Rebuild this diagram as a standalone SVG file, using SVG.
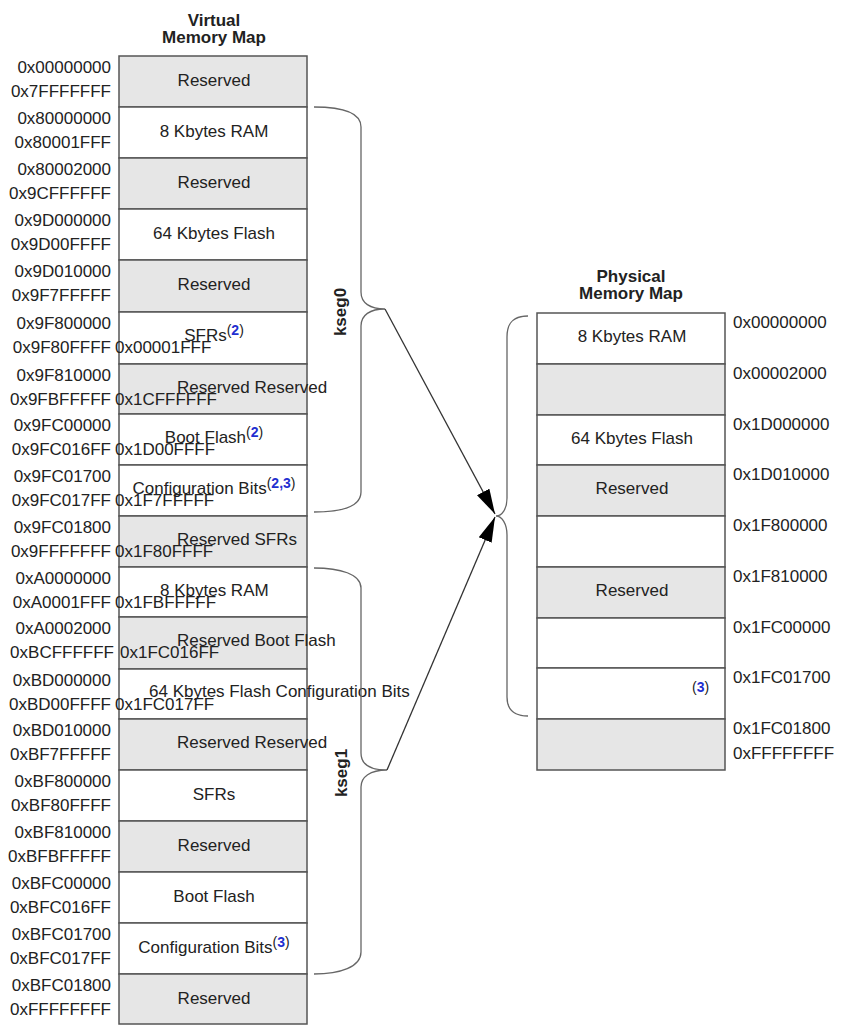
<svg xmlns="http://www.w3.org/2000/svg" width="845" height="1026" viewBox="0 0 845 1026">
<style>
text{font-family:"Liberation Sans",Arial,Helvetica,sans-serif;font-size:17px;fill:#222}
.b{font-weight:bold}
.m{text-anchor:middle}
.e{text-anchor:end}
.g{fill:#e6e6e6;stroke:#555;stroke-width:1.5}
.w{fill:#fff;stroke:#555;stroke-width:1.5}
.sup{font-size:14px}
.bl{fill:#1f2fd0;font-weight:bold}
.br{fill:none;stroke:#666;stroke-width:1.3}
.ar{fill:none;stroke:#333;stroke-width:1.3;marker-end:url(#ah)}
</style>
<defs>
<marker id="ah" markerWidth="28" markerHeight="16" refX="25" refY="8" orient="auto" markerUnits="userSpaceOnUse"><path d="M0,1 L25,8 L0,15 Z" fill="#000"/></marker>
</defs>

<g id="title-virtual"><text class="b m" x="214" y="26">Virtual</text><text class="b m" x="214" y="43">Memory Map</text></g>
<g id="title-physical"><text class="b m" x="631" y="282">Physical</text><text class="b m" x="631" y="299">Memory Map</text></g>

<g id="virtual-map">
<g id="v0"><rect class="g" x="119" y="56" width="188" height="51"/><text class="m" x="214" y="86">Reserved</text><text class="e" x="111" y="73">0x00000000</text><text class="e" x="111" y="97">0x7FFFFFFF</text></g>
<g id="v1"><rect class="w" x="119" y="107" width="188" height="51"/><text class="m" x="214" y="137">8 Kbytes RAM</text><text class="e" x="111" y="124">0x80000000</text><text class="e" x="111" y="148">0x80001FFF</text></g>
<g id="v2"><rect class="g" x="119" y="158" width="188" height="51"/><text class="m" x="214" y="188">Reserved</text><text class="e" x="111" y="175">0x80002000</text><text class="e" x="111" y="199">0x9CFFFFFF</text></g>
<g id="v3"><rect class="w" x="119" y="209" width="188" height="51"/><text class="m" x="214" y="239">64 Kbytes Flash</text><text class="e" x="111" y="226">0x9D000000</text><text class="e" x="111" y="250">0x9D00FFFF</text></g>
<g id="v4"><rect class="g" x="119" y="260" width="188" height="52"/><text class="m" x="214" y="290">Reserved</text><text class="e" x="111" y="277">0x9D010000</text><text class="e" x="111" y="301">0x9F7FFFFF</text></g>
<g id="v5"><rect class="w" x="119" y="312" width="188" height="52"/><text class="m" x="214" y="341">SFRs<tspan class="sup" dy="-6">(<tspan class="bl">2</tspan>)</tspan></text><text class="e" x="111" y="329">0x9F800000</text><text class="e" x="111" y="353">0x9F80FFFF</text><text x="115" y="353">0x00001FFF</text></g>
<g id="v6"><rect class="g" x="119" y="364" width="188" height="50"/><text x="177" y="393">Reserved Reserved</text><text class="e" x="111" y="381">0x9F810000</text><text class="e" x="111" y="405">0x9FBFFFFF</text><text x="115" y="405">0x1CFFFFFF</text></g>
<g id="v7"><rect class="w" x="119" y="414" width="188" height="51"/><text class="m" x="214" y="443">Boot Flash<tspan class="sup" dy="-6">(<tspan class="bl">2</tspan>)</tspan></text><text class="e" x="111" y="431">0x9FC00000</text><text class="e" x="111" y="455">0x9FC016FF</text><text x="115" y="455">0x1D00FFFF</text></g>
<g id="v8"><rect class="w" x="119" y="465" width="188" height="51"/><text class="m" x="214" y="494">Configuration Bits<tspan class="sup" dy="-6">(<tspan class="bl">2,3</tspan>)</tspan></text><text class="e" x="111" y="482">0x9FC01700</text><text class="e" x="111" y="506">0x9FC017FF</text><text x="115" y="506">0x1F7FFFFF</text></g>
<g id="v9"><rect class="g" x="119" y="516" width="188" height="51"/><text x="177" y="545">Reserved SFRs</text><text class="e" x="111" y="533">0x9FC01800</text><text class="e" x="111" y="557">0x9FFFFFFF</text><text x="115" y="557">0x1F80FFFF</text></g>
<g id="v10"><rect class="w" x="119" y="567" width="188" height="50"/><text x="160" y="596">8 Kbytes RAM</text><text class="e" x="111" y="584">0xA0000000</text><text class="e" x="111" y="608">0xA0001FFF</text><text x="115" y="608">0x1FBFFFFF</text></g>
<g id="v11"><rect class="g" x="119" y="617" width="188" height="52"/><text x="177" y="646">Reserved Boot Flash</text><text class="e" x="111" y="634">0xA0002000</text><text class="e" x="114" y="658">0xBCFFFFFF</text><text x="120" y="658">0x1FC016FF</text></g>
<g id="v12"><rect class="w" x="119" y="669" width="188" height="50"/><text x="149" y="697">64 Kbytes Flash Configuration Bits</text><text class="e" x="111" y="686">0xBD000000</text><text class="e" x="111" y="710">0xBD00FFFF</text><text x="115" y="710">0x1FC017FF</text></g>
<g id="v13"><rect class="g" x="119" y="719" width="188" height="51"/><text x="177" y="748">Reserved Reserved</text><text class="e" x="111" y="736">0xBD010000</text><text class="e" x="111" y="760">0xBF7FFFFF</text></g>
<g id="v14"><rect class="w" x="119" y="770" width="188" height="51"/><text class="m" x="214" y="800">SFRs</text><text class="e" x="111" y="787">0xBF800000</text><text class="e" x="111" y="811">0xBF80FFFF</text></g>
<g id="v15"><rect class="g" x="119" y="821" width="188" height="51"/><text class="m" x="214" y="851">Reserved</text><text class="e" x="111" y="838">0xBF810000</text><text class="e" x="111" y="862">0xBFBFFFFF</text></g>
<g id="v16"><rect class="w" x="119" y="872" width="188" height="51"/><text class="m" x="214" y="902">Boot Flash</text><text class="e" x="111" y="889">0xBFC00000</text><text class="e" x="111" y="913">0xBFC016FF</text></g>
<g id="v17"><rect class="w" x="119" y="923" width="188" height="51"/><text class="m" x="214" y="953">Configuration Bits<tspan class="sup" dy="-6">(<tspan class="bl">3</tspan>)</tspan></text><text class="e" x="111" y="940">0xBFC01700</text><text class="e" x="111" y="964">0xBFC017FF</text></g>
<g id="v18"><rect class="g" x="119" y="974" width="188" height="50"/><text class="m" x="214" y="1004">Reserved</text><text class="e" x="111" y="991">0xBFC01800</text><text class="e" x="111" y="1015">0xFFFFFFFF</text></g>
</g>

<g id="physical-map">
<g id="p0"><rect class="w" x="537" y="313" width="188" height="51"/><text class="m" x="632" y="342">8 Kbytes RAM</text><text x="733" y="328">0x00000000</text></g>
<g id="p1"><rect class="g" x="537" y="364" width="188" height="51"/><text x="733" y="379">0x00002000</text></g>
<g id="p2"><rect class="w" x="537" y="415" width="188" height="50"/><text class="m" x="632" y="444">64 Kbytes Flash</text><text x="733" y="430">0x1D000000</text></g>
<g id="p3"><rect class="g" x="537" y="465" width="188" height="51"/><text class="m" x="632" y="494">Reserved</text><text x="733" y="480">0x1D010000</text></g>
<g id="p4"><rect class="w" x="537" y="516" width="188" height="51"/><text x="733" y="531">0x1F800000</text></g>
<g id="p5"><rect class="g" x="537" y="567" width="188" height="51"/><text class="m" x="632" y="596">Reserved</text><text x="733" y="582">0x1F810000</text></g>
<g id="p6"><rect class="w" x="537" y="618" width="188" height="50"/><text x="733" y="633">0x1FC00000</text></g>
<g id="p7"><rect class="w" x="537" y="668" width="188" height="51"/><text class="sup" x="692" y="692">(<tspan class="bl">3</tspan>)</text><text x="733" y="683">0x1FC01700</text></g>
<g id="p8"><rect class="g" x="537" y="719" width="188" height="51"/><text x="733" y="734">0x1FC01800</text><text x="733" y="759">0xFFFFFFFF</text></g>
</g>

<g id="kseg0-label"><text class="b m" transform="translate(346,312) rotate(-90)">kseg0</text></g>
<g id="kseg1-label"><text class="b m" transform="translate(347,773) rotate(-90)">kseg1</text></g>

<g id="connectors">
<path id="brace-kseg0" class="br" d="M314,107 C340,107 361,112 361,127 L361,292 C361,303 370,309 385,309 C370,309 361,315 361,326 L361,492 C361,507 340,512 314,512"/>
<path id="brace-kseg1" class="br" d="M314,568 C340,568 361,574 361,588 L361,753 C361,764 370,770 387,770 C370,770 361,777 361,787 L361,952 C361,967 340,974 314,974"/>
<path id="brace-phys" class="br" d="M528,316 C514,316 507,322 507,337 L507,498 C507,509 502,516 496,516 C502,516 507,524 507,535 L507,697 C507,710 514,716 528,716"/>
<path id="arrow-kseg0" class="ar" d="M385,309 L495,514"/>
<path id="arrow-kseg1" class="ar" d="M387,770 L495,517"/>
</g>
</svg>
